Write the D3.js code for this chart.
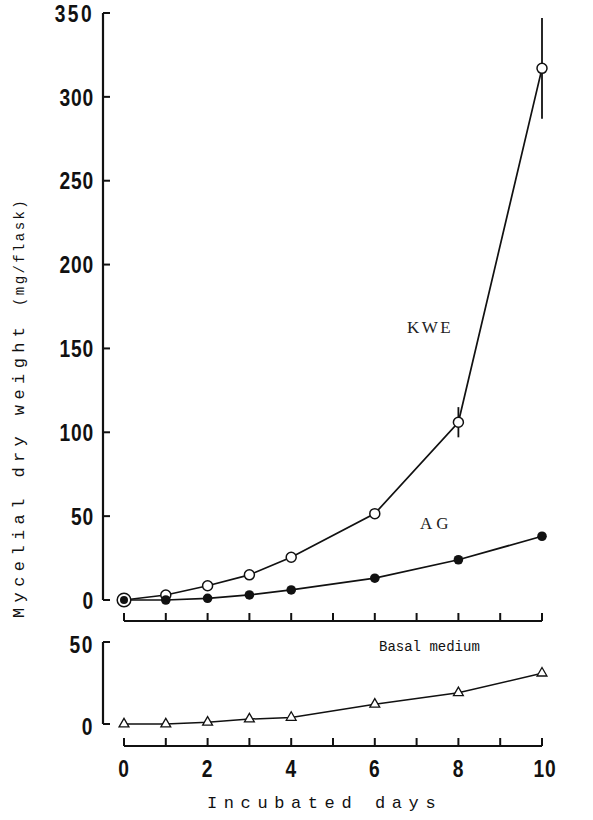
<!DOCTYPE html>
<html><head><meta charset="utf-8">
<script src="https://cdn.jsdelivr.net/npm/d3@7"></script>
<style>
html,body{margin:0;padding:0;background:#fff;}
svg{display:block;}
.num{font-family:"Liberation Sans",Arial,sans-serif;font-weight:bold;font-size:24px;fill:#111;}
.ttl{font-family:"Liberation Mono","DejaVu Sans Mono",monospace;font-size:17px;fill:#111;}
</style></head>
<body>
<script>
const days = [0,1,2,3,4,6,8,10];
const kwe = [0,3,8.5,15,25.5,51.5,106,317];
const ag = [0,0,1,3,6,13,24,38];
const basal = [0,0,1,3,4,12,19,31];
const kweErrLow = [null,null,null,null,null,null,97,287];
const kweErrHigh = [null,null,null,null,null,null,115,347];
const xTicks = [0,1,2,3,4,5,6,7,8,9,10];
const xTickLabels = [0,2,4,6,8,10];
const yTicksTop = [0,50,100,150,200,250,300,350];
const yTicksBottom = [0,50];

const W = 593, H = 820;
const svg = d3.select("body").append("svg").attr("width",W).attr("height",H);

const x = d3.scaleLinear().domain([0,10]).range([124,542]);
const yTop = d3.scaleLinear().domain([0,350]).range([600,13]);
const yBot = d3.scaleLinear().domain([0,50]).range([724,642]);
const axisX = 103;
const SX = 0.8; // condensed digits

// ---- Top y axis
const gTopY = svg.append("g");
gTopY.append("line").attr("x1",axisX).attr("x2",axisX).attr("y1",yTop(350)).attr("y2",yTop(0))
  .attr("stroke","#111").attr("stroke-width",2.2);
gTopY.selectAll("line.t").data(yTicksTop).join("line").attr("class","t")
  .attr("x1",axisX).attr("x2",axisX+7).attr("y1",d=>yTop(d)).attr("y2",d=>yTop(d))
  .attr("stroke","#111").attr("stroke-width",2);
gTopY.selectAll("text").data(yTicksTop).join("text").attr("class","num")
  .attr("transform",d=>`translate(94,${yTop(d)}) scale(${SX},1)`)
  .attr("dy","0.36em").attr("text-anchor","end")
  .attr("letter-spacing",d=>d===350?"3px":"1px")
  .text(d=>d);

// ---- Bottom y axis
const gBotY = svg.append("g");
gBotY.append("line").attr("x1",axisX).attr("x2",axisX).attr("y1",yBot(50)).attr("y2",yBot(0))
  .attr("stroke","#111").attr("stroke-width",2.2);
gBotY.selectAll("line.t").data(yTicksBottom).join("line").attr("class","t")
  .attr("x1",axisX).attr("x2",axisX+7).attr("y1",d=>yBot(d)).attr("y2",d=>yBot(d))
  .attr("stroke","#111").attr("stroke-width",2);
gBotY.selectAll("text").data(yTicksBottom).join("text").attr("class","num")
  .attr("transform",d=>`translate(94,${yBot(d)+2}) scale(${SX},1)`)
  .attr("dy","0.36em").attr("text-anchor","end")
  .attr("letter-spacing","2px").text(d=>d);

// ---- x axes (top and bottom)
function xAxisAt(yPos){
  const g = svg.append("g");
  g.append("line").attr("x1",x(0)).attr("x2",x(10)).attr("y1",yPos).attr("y2",yPos)
    .attr("stroke","#111").attr("stroke-width",2.2);
  g.selectAll("line.t").data(xTicks).join("line").attr("class","t")
    .attr("x1",d=>x(d)).attr("x2",d=>x(d)).attr("y1",yPos).attr("y2",yPos-8)
    .attr("stroke","#111").attr("stroke-width",2);
  return g;
}
xAxisAt(621);
xAxisAt(746);
svg.append("g").selectAll("text").data(xTickLabels).join("text").attr("class","num")
  .attr("transform",d=>`translate(${x(d)+(d===10?3:0)},768) scale(${SX},1)`)
  .attr("dy","0.36em").attr("text-anchor","middle")
  .attr("letter-spacing","1px").text(d=>d);

// ---- Axis titles
svg.append("text").attr("class","ttl").attr("x",207).attr("y",808)
  .attr("letter-spacing","6.6px").text("Incubated days");

const yl = svg.append("text").attr("class","ttl")
  .attr("transform","translate(24,618) rotate(-90)");
yl.append("tspan").attr("letter-spacing","5.4px").text("Mycelial dry weight ");
yl.append("tspan").attr("font-size","14px").attr("letter-spacing","2.4px").text("(mg/flask)");

// ---- Lines
const lineTop = d3.line().x((d,i)=>x(days[i])).y(d=>yTop(d));
const lineBot = d3.line().x((d,i)=>x(days[i])).y(d=>yBot(d));
svg.append("path").attr("d",lineTop(kwe)).attr("fill","none").attr("stroke","#111").attr("stroke-width",1.7);
svg.append("path").attr("d",lineTop(ag)).attr("fill","none").attr("stroke","#111").attr("stroke-width",1.7);
svg.append("path").attr("d",lineBot(basal)).attr("fill","none").attr("stroke","#111").attr("stroke-width",1.5);

// ---- Error bars
svg.append("g").selectAll("line").data(days.map((d,i)=>({d,lo:kweErrLow[i],hi:kweErrHigh[i]})).filter(e=>e.lo!==null))
  .join("line").attr("x1",e=>x(e.d)).attr("x2",e=>x(e.d)).attr("y1",e=>yTop(e.lo)).attr("y2",e=>yTop(e.hi))
  .attr("stroke","#111").attr("stroke-width",1.8);

// ---- Markers
svg.append("g").selectAll("circle").data(kwe).join("circle")
  .attr("cx",(d,i)=>x(days[i])).attr("cy",d=>yTop(d))
  .attr("r",(d,i)=>d===ag[i]&&i===0?6.8:5)
  .attr("fill","#fff").attr("stroke","#111").attr("stroke-width",1.5);
svg.append("g").selectAll("circle").data(ag).join("circle")
  .attr("cx",(d,i)=>x(days[i])).attr("cy",d=>yTop(d)).attr("r",(d,i)=>i===0?4:4.8)
  .attr("fill","#111");
const tri = d3.symbol().type(d3.symbolTriangle).size(42);
svg.append("g").selectAll("path").data(basal).join("path")
  .attr("transform",(d,i)=>`translate(${x(days[i])},${yBot(d)})`)
  .attr("d",tri).attr("fill","#fff").attr("stroke","#111").attr("stroke-width",1.3);

// ---- Series labels
svg.append("text").attr("x",407).attr("y",333)
  .attr("font-family","Liberation Serif, serif").attr("font-size","17px").attr("letter-spacing","2.5px").attr("fill","#222").text("KWE");
svg.append("text").attr("x",420).attr("y",529)
  .attr("font-family","Liberation Serif, serif").attr("font-size","17px").attr("letter-spacing","4px").attr("fill","#222").text("AG");
svg.append("text").attr("x",379).attr("y",651)
  .attr("font-family","Liberation Mono, monospace").attr("font-size","14px").attr("fill","#111").text("Basal medium");
</script>
</body></html>
